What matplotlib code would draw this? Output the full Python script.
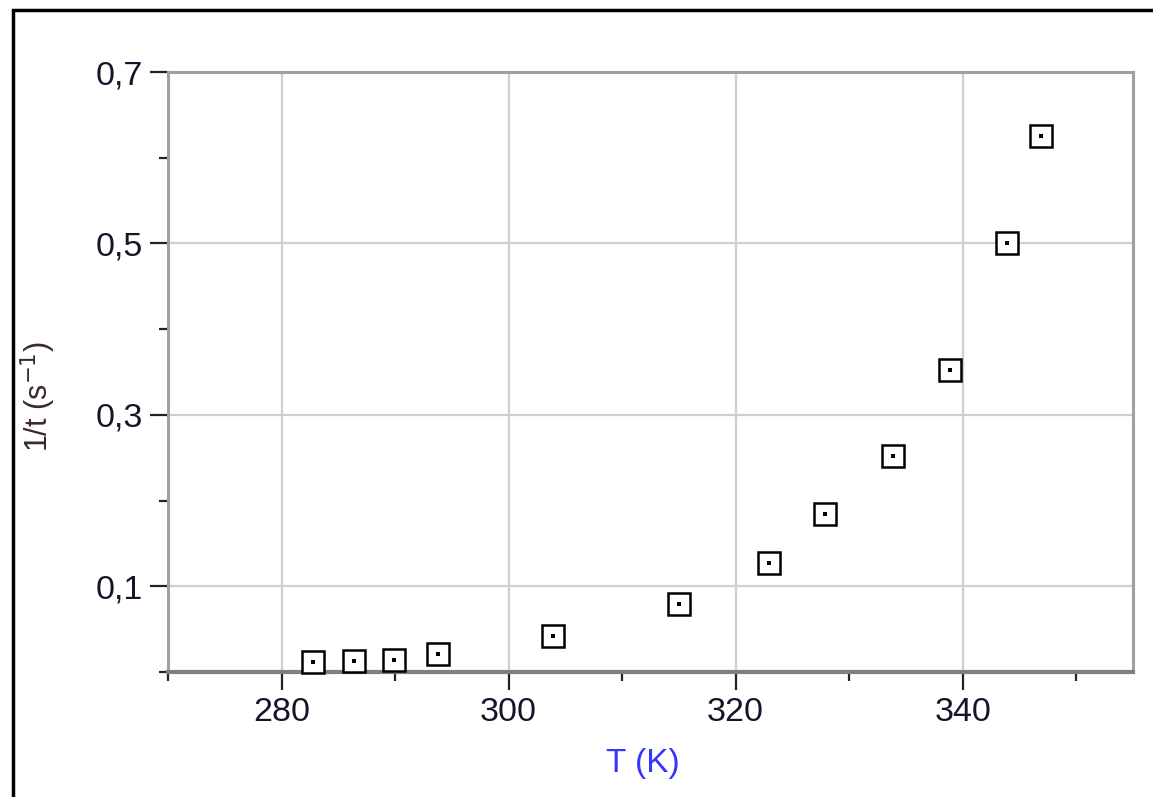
import matplotlib
matplotlib.use("Agg")
import matplotlib.pyplot as plt
from matplotlib.ticker import MultipleLocator, FixedLocator, FuncFormatter
from matplotlib.patches import Rectangle

plt.rcParams['font.family'] = ['Liberation Sans', 'DejaVu Sans']

T_K = [282.8, 286.4, 289.9, 293.8, 303.9, 315.0, 322.9, 327.9, 333.9, 338.9, 343.9, 346.9]
inv_t = [0.0115, 0.0125, 0.0135, 0.0205, 0.0415, 0.079, 0.127, 0.184, 0.252, 0.352, 0.500, 0.625]

x_major = [280, 300, 320, 340]
y_major = [0.1, 0.3, 0.5, 0.7]

fig = plt.figure(figsize=(11.53, 7.97), dpi=100)
ax = fig.add_axes([168/1153, 1-672/797, (1133-168)/1153, (672-72)/797])

ax.set_xlim(270, 355)
ax.set_ylim(0, 0.7)

ax.xaxis.set_major_locator(FixedLocator(x_major))
ax.xaxis.set_minor_locator(MultipleLocator(10))
ax.yaxis.set_major_locator(FixedLocator(y_major))
ax.yaxis.set_minor_locator(MultipleLocator(0.1))

ax.yaxis.set_major_formatter(FuncFormatter(lambda v, p: f"{v:.1f}".replace('.', ',')))
ax.xaxis.set_major_formatter(FuncFormatter(lambda v, p: f"{v:.0f}"))

ax.grid(True, which='major', color='#cfcfcf', lw=1.6, zorder=0)
ax.set_axisbelow(True)

for s in ['left', 'top', 'right']:
    ax.spines[s].set_color('#a0a0a0')
    ax.spines[s].set_linewidth(2.2)
ax.spines['bottom'].set_color('#7f7f7f')
ax.spines['bottom'].set_linewidth(3)

ax.tick_params(which='major', length=13, width=1.6, color='#222222', direction='out',
               labelsize=24.5, labelcolor='#15152a', pad=5)
ax.tick_params(which='minor', length=6.5, width=1.6, color='#222222', direction='out')

ax.plot(T_K, inv_t, linestyle='none', marker='s', markersize=15.5, mfc='white',
        mec='black', mew=1.8, zorder=3, clip_on=False)
ax.plot(T_K, inv_t, linestyle='none', marker='s', markersize=2.2, mfc='black',
        mec='black', mew=0, zorder=4, clip_on=False)

ax.set_xlabel('T (K)', fontsize=24, color='#3535ff')
ax.xaxis.set_label_coords((643-168)/965, -(748-672)/600)
ax.xaxis.label.set_va('top')
ax.set_ylabel('1/t (s$^{-1}$)', fontsize=22, color='#3a2a2a')
ax.yaxis.set_label_coords(-(168-58)/965, (672-397)/600)

fig.patches.append(Rectangle((13/1153, -0.1), 2, (1-10/797)+0.1, transform=fig.transFigure,
                             fill=False, edgecolor='black', lw=2.5))

fig.savefig('out.png', dpi=100)
